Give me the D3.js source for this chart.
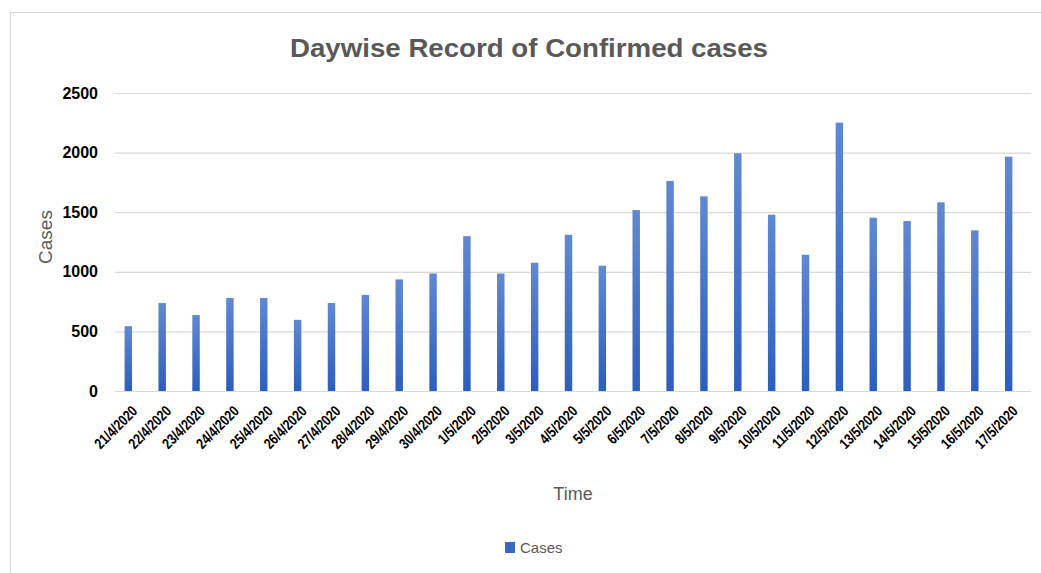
<!DOCTYPE html>
<html>
<head>
<meta charset="utf-8">
<script src="https://cdnjs.cloudflare.com/ajax/libs/d3/7.8.5/d3.min.js"></script>
<style>
  body { margin: 0; background: #fff; }
  svg { display: block; font-family: "Liberation Sans", Arial, sans-serif; }
</style>
</head>
<body>
<svg id="chart" width="1041" height="573"></svg>
<script>
// daily confirmed cases
var dates = ["21/4/2020", "22/4/2020", "23/4/2020", "24/4/2020", "25/4/2020", "26/4/2020",
  "27/4/2020", "28/4/2020", "29/4/2020", "30/4/2020", "1/5/2020", "2/5/2020", "3/5/2020",
  "4/5/2020", "5/5/2020", "6/5/2020", "7/5/2020", "8/5/2020", "9/5/2020", "10/5/2020",
  "11/5/2020", "12/5/2020", "13/5/2020", "14/5/2020", "15/5/2020", "16/5/2020", "17/5/2020"];
var cases = [544, 738, 637, 780, 780, 597, 738, 806, 936, 986, 1299, 986, 1076, 1310, 1051,
  1518, 1762, 1633, 1994, 1479, 1143, 2251, 1454, 1426, 1583, 1348, 1966];
var yTicks = [0, 500, 1000, 1500, 2000, 2500];

var svg = d3.select("#chart");

// chart area border
svg.append("rect")
  .attr("x", 10.5).attr("y", 12.5)
  .attr("width", 1100).attr("height", 600)
  .attr("fill", "none").attr("stroke", "#d9d9d9");

var defs = svg.append("defs");
var grad = defs.append("linearGradient")
  .attr("id", "barGrad").attr("x1", 0).attr("y1", 0).attr("x2", 0).attr("y2", 1);
grad.append("stop").attr("offset", "0%").attr("stop-color", "#6189d2");
grad.append("stop").attr("offset", "100%").attr("stop-color", "#2c5ebd");

var x = d3.scaleBand()
  .domain(dates)
  .range([111.4, 1025.6])
  .paddingInner(0.78)
  .paddingOuter(0.39);

var y = d3.scaleLinear()
  .domain([0, 2500])
  .range([391, 93]);

// y axis with gridlines
var yAxis = svg.append("g")
  .attr("transform", "translate(115,0)")
  .call(d3.axisLeft(y).tickValues(yTicks).tickFormat(d3.format("d")).tickSize(-916).tickPadding(17));
yAxis.select(".domain").remove();
yAxis.selectAll(".tick line").attr("stroke", "#d9d9d9").attr("stroke-width", 1.2);
yAxis.selectAll(".tick text")
  .attr("fill", "#000").attr("font-size", 16).attr("font-weight", "bold")
  .attr("font-family", "Liberation Sans, Arial, sans-serif");

// bars
svg.append("g").selectAll("rect")
  .data(cases)
  .enter()
  .append("rect")
  .attr("x", function (d, i) { return x(dates[i]); })
  .attr("y", function (d) { return y(d); })
  .attr("width", x.bandwidth())
  .attr("height", function (d) { return y(0) - y(d); })
  .attr("fill", "url(#barGrad)");

// x labels, rotated (squeezed a bit along the baseline, like the narrow original font)
var xAxis = svg.append("g")
  .attr("transform", "translate(0,391)")
  .call(d3.axisBottom(x).tickSize(0));
xAxis.select(".domain").remove();
xAxis.selectAll(".tick text")
  .attr("fill", "#000").attr("font-size", 15).attr("font-weight", "bold")
  .attr("font-family", "Liberation Sans, Arial, sans-serif")
  .attr("text-anchor", "end")
  .attr("dy", 0)
  .attr("transform", "translate(10,21) rotate(-45) scale(0.8,1)")
  .attr("y", 0);

// titles
svg.append("text")
  .attr("x", 529).attr("y", 57)
  .attr("text-anchor", "middle")
  .attr("font-size", 25)
  .attr("font-weight", "bold")
  .attr("fill", "#595959")
  .attr("textLength", 478).attr("lengthAdjust", "spacingAndGlyphs")
  .text("Daywise Record of Confirmed cases");

svg.append("text")
  .attr("transform", "translate(52,237) rotate(-90)")
  .attr("text-anchor", "middle")
  .attr("font-size", 19)
  .attr("fill", "#595959")
  .text("Cases");

svg.append("text")
  .attr("x", 573).attr("y", 500)
  .attr("text-anchor", "middle")
  .attr("font-size", 18)
  .attr("fill", "#595959")
  .text("Time");

// legend
var legend = svg.append("g").attr("transform", "translate(505,542)");
legend.append("rect")
  .attr("width", 10).attr("height", 11)
  .attr("fill", "#3a68c4");
legend.append("text")
  .attr("x", 15).attr("y", 11)
  .attr("font-size", 15)
  .attr("fill", "#595959")
  .text("Cases");
</script>
</body>
</html>
